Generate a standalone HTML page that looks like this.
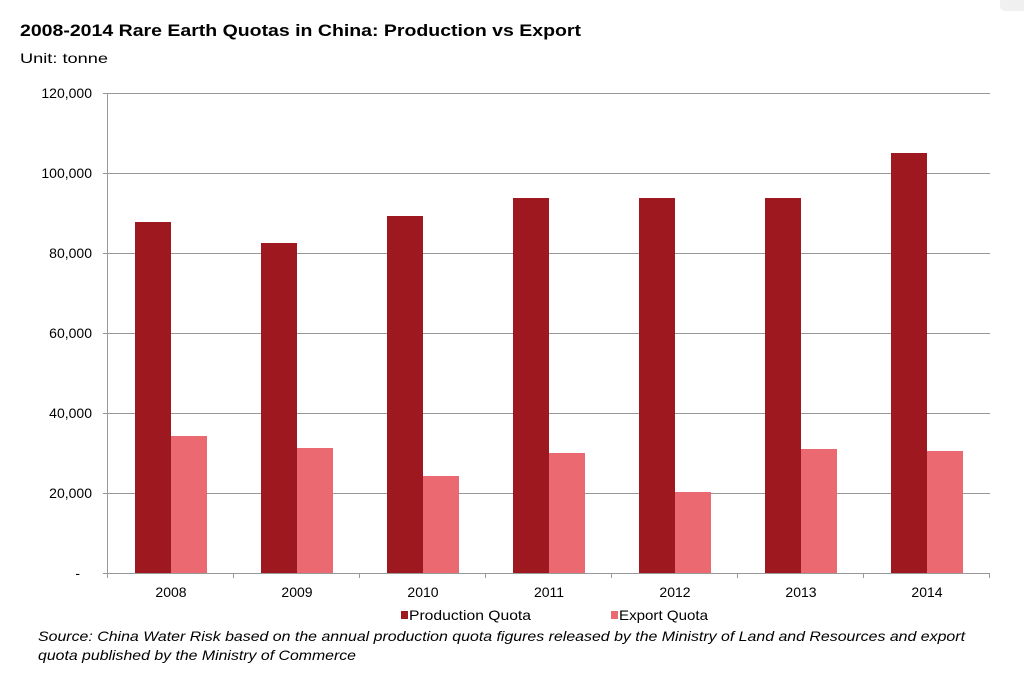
<!DOCTYPE html>
<html><head><meta charset="utf-8"><style>
html,body{margin:0;padding:0;background:#fff;}
svg{display:block;font-family:"Liberation Sans",Arial,sans-serif;}
</style></head><body>
<svg width="1024" height="681" viewBox="0 0 1024 681" xmlns="http://www.w3.org/2000/svg">
<rect x="1000" y="-6" width="30" height="17" rx="5" fill="#f0f0f0"/>
<text x="20" y="36" font-size="17" font-weight="bold" fill="#000" textLength="561" lengthAdjust="spacingAndGlyphs">2008-2014 Rare Earth Quotas in China: Production vs Export</text>
<text x="20" y="63" font-size="14" fill="#000" textLength="88" lengthAdjust="spacingAndGlyphs">Unit: tonne</text>
<g stroke="#999" stroke-width="1">
<line x1="103" y1="93.5" x2="990" y2="93.5"/>
<line x1="103" y1="173.5" x2="990" y2="173.5"/>
<line x1="103" y1="253.5" x2="990" y2="253.5"/>
<line x1="103" y1="333.5" x2="990" y2="333.5"/>
<line x1="103" y1="413.5" x2="990" y2="413.5"/>
<line x1="103" y1="493.5" x2="990" y2="493.5"/>
<line x1="107.5" y1="93" x2="107.5" y2="573"/>
</g>
<g font-size="14" fill="#000" text-anchor="end">
<text x="92" y="98">120,000</text>
<text x="92" y="178">100,000</text>
<text x="92" y="258">80,000</text>
<text x="92" y="338">60,000</text>
<text x="92" y="418">40,000</text>
<text x="92" y="498">20,000</text>
<text x="80" y="578">-</text>
</g>
<g fill="#9e1820">
<rect x="135" y="222" width="36" height="351"/>
<rect x="261" y="243" width="36" height="330"/>
<rect x="387" y="216" width="36" height="357"/>
<rect x="513" y="198" width="36" height="375"/>
<rect x="639" y="198" width="36" height="375"/>
<rect x="765" y="198" width="36" height="375"/>
<rect x="891" y="153" width="36" height="420"/>
</g>
<g fill="#eb6a72">
<rect x="171" y="436" width="36" height="137"/>
<rect x="297" y="448" width="36" height="125"/>
<rect x="423" y="476" width="36" height="97"/>
<rect x="549" y="453" width="36" height="120"/>
<rect x="675" y="492" width="36" height="81"/>
<rect x="801" y="449" width="36" height="124"/>
<rect x="927" y="451" width="36" height="122"/>
</g>
<g stroke="#999" stroke-width="1">
<line x1="103" y1="573.5" x2="990" y2="573.5"/>
<line x1="107.5" y1="573" x2="107.5" y2="578"/>
<line x1="233.5" y1="573" x2="233.5" y2="578"/>
<line x1="359.5" y1="573" x2="359.5" y2="578"/>
<line x1="485.5" y1="573" x2="485.5" y2="578"/>
<line x1="611.5" y1="573" x2="611.5" y2="578"/>
<line x1="737.5" y1="573" x2="737.5" y2="578"/>
<line x1="863.5" y1="573" x2="863.5" y2="578"/>
<line x1="989.5" y1="573" x2="989.5" y2="578"/>
</g>
<g font-size="14" fill="#000" text-anchor="middle">
<text x="171" y="597">2008</text>
<text x="297" y="597">2009</text>
<text x="423" y="597">2010</text>
<text x="549" y="597">2011</text>
<text x="675" y="597">2012</text>
<text x="801" y="597">2013</text>
<text x="927" y="597">2014</text>
</g>
<rect x="401" y="611" width="7" height="8" fill="#9e1820"/>
<text x="409" y="620" font-size="14" textLength="122" lengthAdjust="spacingAndGlyphs">Production Quota</text>
<rect x="611" y="611" width="7" height="8" fill="#eb6a72"/>
<text x="619" y="620" font-size="14" textLength="89" lengthAdjust="spacingAndGlyphs">Export Quota</text>
<text x="38" y="641" font-size="14" font-style="italic" textLength="927" lengthAdjust="spacingAndGlyphs">Source: China Water Risk based on the annual production quota figures released by the Ministry of Land and Resources and export</text>
<text x="38" y="660" font-size="14" font-style="italic" textLength="318" lengthAdjust="spacingAndGlyphs">quota published by the Ministry of Commerce</text>
</svg>
</body></html>
